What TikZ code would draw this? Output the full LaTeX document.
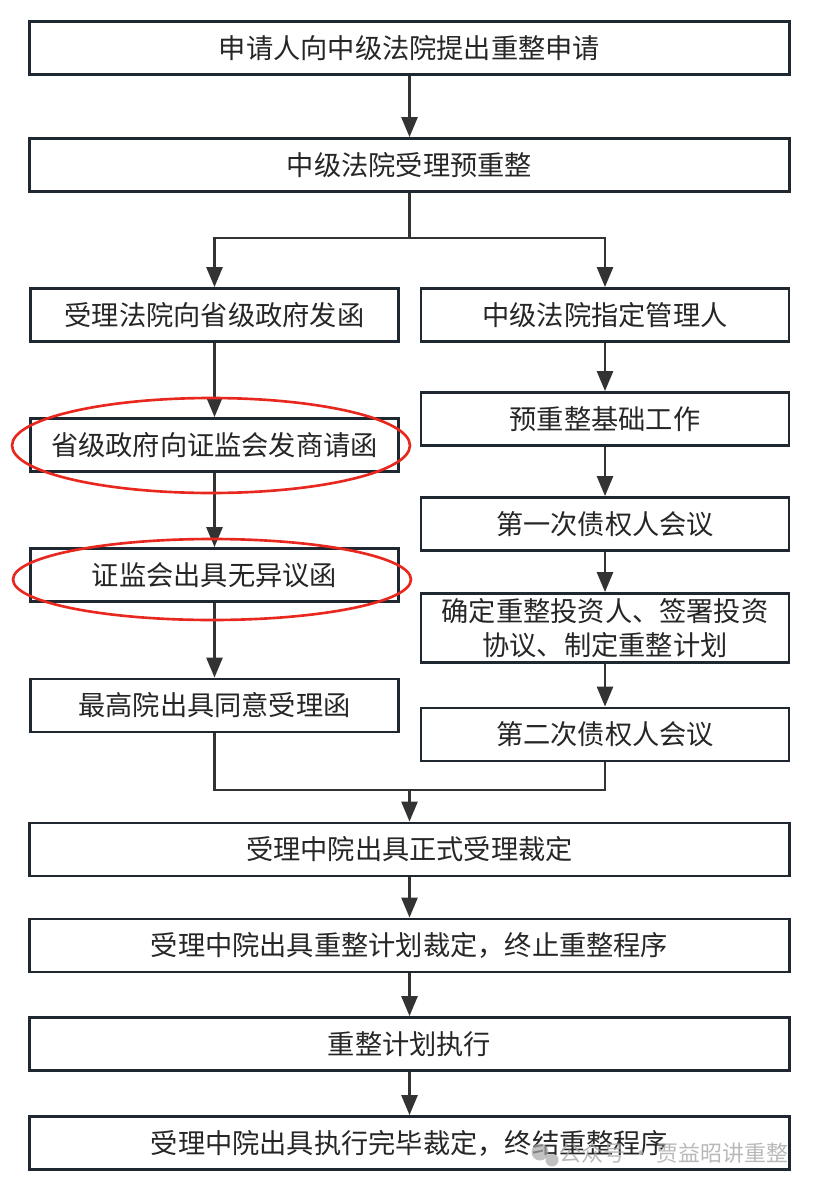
\documentclass[tikz,border=0pt]{standalone}
\usepackage{fontspec}
\usepackage{xcolor}
\usetikzlibrary{arrows.meta,positioning,calc}
\newfontfamily\cjk{Noto Sans CJK SC}
\definecolor{Frame}{HTML}{1F2830}
\definecolor{Wire}{HTML}{333333}
\definecolor{Ink}{HTML}{262626}
\definecolor{Ring}{HTML}{E8281E}
\definecolor{Mark}{HTML}{A8A8A8}
\tikzset{
  wbox/.style={draw=Frame,fill=white,line width=1.6pt,minimum width=15.2cm,minimum height=1.06cm,align=center,font=\cjk\fontsize{15.5pt}{19.5pt}\selectfont,text=Ink,inner sep=0pt},
  cbox/.style={wbox,minimum width=7.36cm},
  arr/.style={-{Triangle[length=4mm,width=3.2mm]},draw=Wire,line width=1.5pt},
  wire/.style={draw=Wire,line width=1.5pt},
  ring/.style={draw=Ring,line width=1.5pt}
}

\begin{document}
\begin{tikzpicture}[x=0.02cm,y=-0.02cm]
  \useasboundingbox (0,0) rectangle (817,1186);
  % trunk
  \node[wbox] (apply) at (409.5,48) {申请人向中级法院提出重整申请};
  \node[wbox] (pre) at (409.5,165) {中级法院受理预重整};
  % left column
  \node[cbox] (letter) at (214.5,315) {受理法院向省级政府发函};
  \node[cbox] (consult) at (214.5,445) {省级政府向证监会发商请函};
  \node[cbox] (noobj) at (214.5,575) {证监会出具无异议函};
  \node[cbox] (supreme) at (214.5,705.5) {最高院出具同意受理函};
  % right column
  \node[cbox] (admin) at (605,315) {中级法院指定管理人};
  \node[cbox] (basic) at (605,419) {预重整基础工作};
  \node[cbox] (meet1) at (605,524) {第一次债权人会议};
  \node[cbox,minimum height=1.38cm] (invest) at (605,628) {确定重整投资人、签署投资\\协议、制定重整计划};
  \node[cbox] (meet2) at (605,734.5) {第二次债权人会议};
  % after merge
  \node[wbox] (accept) at (409.5,849.5) {受理中院出具正式受理裁定};
  \node[wbox] (plan) at (409.5,945.5) {受理中院出具重整计划裁定，终止重整程序};
  \node[wbox] (exec) at (409.5,1044) {重整计划执行};
  \node[wbox] (close) at (409.5,1143) {受理中院出具执行完毕裁定，终结重整程序};

  \coordinate (split) at (409.5,238);
  \coordinate (join) at (409.5,790);

  \draw[arr] (apply) -- (pre);
  \draw[wire] (pre.south) -- (split);
  \draw[arr] (split) -| (letter.north);
  \draw[arr] (split) -| (admin.north);
  \draw[arr] (letter) -- (consult);
  \draw[arr] (consult) -- (noobj);
  \draw[arr] (noobj) -- (supreme);
  \draw[arr] (admin) -- (basic);
  \draw[arr] (basic) -- (meet1);
  \draw[arr] (meet1) -- (invest);
  \draw[arr] (invest) -- (meet2);
  \draw[wire] (supreme.south) |- (join) -| (meet2.south);
  \draw[arr] (join) -- (accept);
  \draw[arr] (accept) -- (plan);
  \draw[arr] (plan) -- (exec);
  \draw[arr] (exec) -- (close);

  % red marks
  \draw[ring] (211,445.5) ellipse [x radius=3.98cm,y radius=0.95cm];
  \draw[ring] (212,579.5) ellipse [x radius=3.98cm,y radius=0.81cm];

  % watermark
  \fill[Mark,opacity=0.7] (540,1152) circle [radius=0.17cm];
  \fill[Mark,opacity=0.7] (552,1160) circle [radius=0.13cm];
  \node[anchor=east,inner sep=0pt,text=Mark,text opacity=0.8,font=\cjk\fontsize{12.5pt}{14pt}\selectfont] (wm) at (789,1153) {公众号 · 贾益昭讲重整};
\end{tikzpicture}
\end{document}
